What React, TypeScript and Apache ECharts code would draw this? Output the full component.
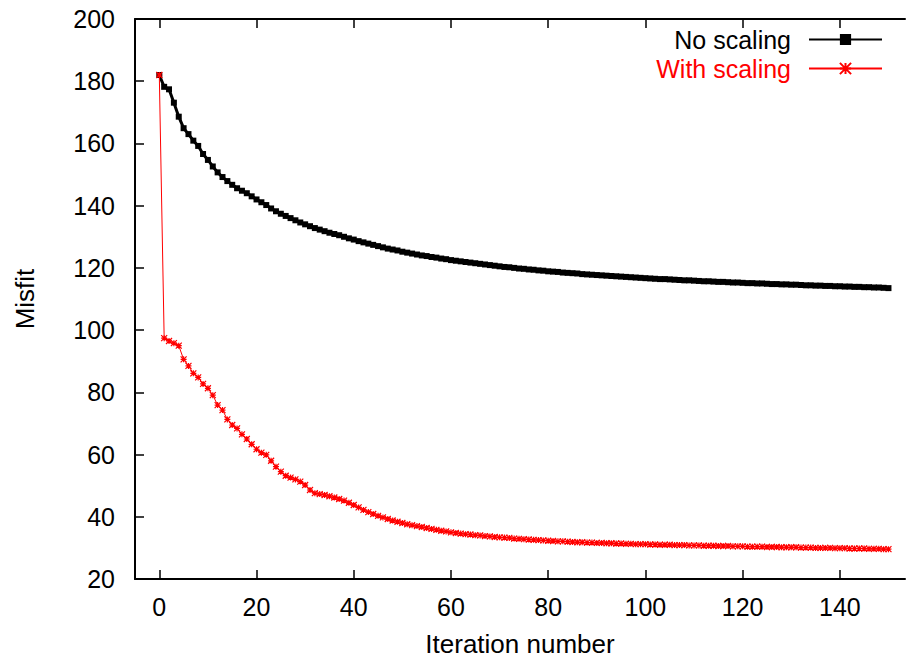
import React, { useEffect, useRef } from "react";
import * as echarts from "echarts";

const xTickValues = [0, 20, 40, 60, 80, 100, 120, 140];

const noScaling = [
  182.0, 178.2, 177.4, 173.1, 168.6, 164.9, 163.0, 160.9, 159.2, 156.6,
  154.7, 152.6, 150.7, 149.2, 147.9, 146.7, 145.6, 144.8, 144.0, 143.0,
  142.0, 141.1, 140.2, 139.1, 138.2, 137.4, 136.7, 136.0, 135.3, 134.6,
  134.0, 133.4, 132.8, 132.3, 131.8, 131.3, 130.9, 130.5, 130.0, 129.5,
  129.1, 128.6, 128.2, 127.8, 127.4, 127.0, 126.6, 126.2, 125.9, 125.6,
  125.2, 124.9, 124.6, 124.3, 124.0, 123.8, 123.5, 123.3, 123.0, 122.8,
  122.5, 122.3, 122.1, 121.9, 121.7, 121.5, 121.3, 121.1, 120.9, 120.7,
  120.5, 120.3, 120.2, 120.0, 119.8, 119.7, 119.5, 119.4, 119.2, 119.1,
  118.9, 118.8, 118.7, 118.5, 118.4, 118.3, 118.2, 118.0, 117.9, 117.8,
  117.7, 117.6, 117.5, 117.4, 117.3, 117.2, 117.1, 117.0, 116.9, 116.8,
  116.7, 116.6, 116.5, 116.4, 116.4, 116.3, 116.2, 116.1, 116.0, 116.0,
  115.9, 115.8, 115.7, 115.7, 115.6, 115.5, 115.5, 115.4, 115.3, 115.3,
  115.2, 115.1, 115.1, 115.0, 115.0, 114.9, 114.8, 114.8, 114.7, 114.7,
  114.6, 114.6, 114.5, 114.4, 114.4, 114.3, 114.3, 114.2, 114.2, 114.1,
  114.1, 114.0, 114.0, 113.9, 113.9, 113.8, 113.8, 113.7, 113.7, 113.6,
  113.5,
];

const withScaling = [
  182.0, 97.4, 96.5, 95.8, 95.0, 90.6, 88.5, 86.1, 84.8, 82.7,
  81.3, 79.1, 75.9, 74.3, 71.3, 69.5, 68.4, 66.5, 65.0, 63.3,
  61.7, 60.6, 59.9, 58.0, 56.1, 54.5, 53.2, 52.6, 52.0, 51.3,
  50.2, 48.6, 47.6, 47.3, 47.0, 46.6, 46.2, 45.7, 45.2, 44.5,
  43.8, 43.0, 42.2, 41.5, 40.9, 40.3, 39.8, 39.3, 38.8, 38.4,
  38.0, 37.6, 37.3, 37.0, 36.7, 36.4, 36.1, 35.8, 35.5, 35.3,
  35.0, 34.8, 34.6, 34.4, 34.3, 34.1, 34.0, 33.8, 33.7, 33.5,
  33.4, 33.3, 33.2, 33.0, 32.9, 32.8, 32.7, 32.6, 32.5, 32.4,
  32.3, 32.2, 32.1, 32.1, 32.0, 31.9, 31.8, 31.8, 31.7, 31.7,
  31.6, 31.6, 31.5, 31.5, 31.4, 31.4, 31.3, 31.3, 31.2, 31.2,
  31.2, 31.1, 31.1, 31.0, 31.0, 31.0, 30.9, 30.9, 30.9, 30.8,
  30.8, 30.8, 30.7, 30.7, 30.7, 30.6, 30.6, 30.6, 30.5, 30.5,
  30.5, 30.4, 30.4, 30.4, 30.4, 30.3, 30.3, 30.3, 30.2, 30.2,
  30.2, 30.2, 30.1, 30.1, 30.1, 30.0, 30.0, 30.0, 30.0, 29.9,
  29.9, 29.9, 29.8, 29.8, 29.8, 29.8, 29.7, 29.7, 29.7, 29.6,
  29.6,
];

const FONT = "'Liberation Sans', Arial, Helvetica, sans-serif";
const STAR = "path://M0,0L10,10M10,0L0,10M5,0L5,10M0,5L10,5";

export default function App() {
  const ref = useRef<HTMLDivElement>(null);

  useEffect(() => {
    if (!ref.current) return;
    const chart = echarts.init(ref.current, null, { renderer: "svg" });

    const axisLineStyle = { color: "#000", width: 2 };
    const commonX = {
      type: "value" as const,
      min: -5,
      max: 153.4,
      splitLine: { show: false },
      axisLine: { show: true, onZero: false, lineStyle: axisLineStyle },
      axisTick: {
        show: true,
        inside: true,
        length: 9,
        customValues: xTickValues,
        lineStyle: { color: "#000", width: 1.5 },
      },
    };

    chart.setOption({
      animation: false,
      backgroundColor: "#fff",
      textStyle: { fontFamily: FONT },
      grid: { left: 135, right: 1, top: 19, bottom: 85, containLabel: false },
      legend: {
        orient: "vertical",
        align: "right",
        right: 18,
        top: 22,
        itemGap: 4,
        itemWidth: 73,
        itemHeight: 14,
        textStyle: {
          fontSize: 25,
          fontFamily: FONT,
          padding: [0, 13, 0, 0],
        },
        data: [
          { name: "No scaling", textStyle: { color: "#000" } },
          { name: "With scaling", textStyle: { color: "#ff0000" } },
        ],
      },
      xAxis: [
        {
          ...commonX,
          position: "bottom",
          name: "Iteration number",
          nameLocation: "middle",
          nameGap: 52,
          nameTextStyle: { fontSize: 26, color: "#000", fontFamily: FONT },
          axisLabel: {
            show: true,
            customValues: xTickValues,
            fontSize: 25,
            color: "#000",
            margin: 15,
            fontFamily: FONT,
          },
        },
        {
          ...commonX,
          position: "top",
          axisLabel: { show: false },
        },
      ],
      yAxis: [
        {
          type: "value",
          min: 20,
          max: 200,
          interval: 20,
          position: "left",
          splitLine: { show: false },
          axisLine: { show: true, onZero: false, lineStyle: axisLineStyle },
          axisTick: {
            show: true,
            inside: true,
            length: 9,
            lineStyle: { color: "#000", width: 1.5 },
          },
          name: "Misfit",
          nameLocation: "middle",
          nameGap: 97,
          nameTextStyle: { fontSize: 26, color: "#000", fontFamily: FONT },
          axisLabel: {
            show: true,
            fontSize: 25,
            color: "#000",
            margin: 20,
            fontFamily: FONT,
          },
        },
      ],
      series: [
        {
          name: "No scaling",
          type: "line",
          xAxisIndex: 0,
          yAxisIndex: 0,
          data: noScaling.map((v, i) => [i, v]),
          lineStyle: { color: "#000", width: 3 },
          itemStyle: { color: "#000" },
          symbol: "rect",
          symbolSize: 6,
          showAllSymbol: true,
          z: 2,
        },
        {
          name: "With scaling",
          type: "line",
          xAxisIndex: 0,
          yAxisIndex: 0,
          data: withScaling.map((v, i) => [i, v]),
          lineStyle: { color: "#ff0000", width: 1 },
          itemStyle: { color: "#ff0000", borderColor: "#ff0000", borderWidth: 1.2 },
          symbol: STAR,
          symbolSize: 6,
          showAllSymbol: true,
          z: 3,
        },
      ],
    });

    return () => chart.dispose();
  }, []);

  return (
    <div
      ref={ref}
      style={{ position: "fixed", left: 0, top: 0, width: 906, height: 664, background: "#fff" }}
    />
  );
}
